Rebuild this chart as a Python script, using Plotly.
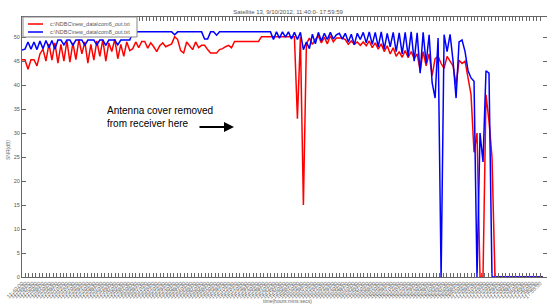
import pandas as pd
import plotly.graph_objects as go

# ---------------- data ----------------
start_time = "2012-09-10 11:40:00"
end_time = "2012-09-10 17:59:59"
sample_interval = "130s"

com6_snr = [
    45.3, 45.3, 43.3, 45.3, 45.3, 44.0, 46.5, 47.5, 45.0, 48.6,
    45.2, 48.8, 44.6, 48.5, 45.0, 49.3, 44.8, 48.8, 45.3, 49.5,
    46.5, 49.0, 44.6, 48.5, 45.2, 49.2, 46.0, 49.5, 45.0, 48.8,
    47.0, 49.6, 45.5, 48.5, 46.0, 49.0, 47.2,
    47.6, 49.0, 47.8, 49.1, 49.1, 47.7, 48.8, 48.0, 47.0, 48.2,
    48.8, 48.0, 48.3, 48.6, 50.1, 49.5, 47.2, 46.7, 49.0, 48.2,
    47.4, 49.0, 47.8, 48.3, 48.3, 47.4, 46.7, 46.7, 46.7, 47.4,
    47.6, 48.0, 48.3, 47.8, 49.1, 49.1,
    49.1, 49.1, 49.1, 49.1, 49.1, 49.1, 49.1,
    50.1, 50.1, 50.1, 50.1, 50.1, 50.1, 50.1, 50.1, 50.1, 50.1, 50.1, 50.1,
    33.0, 50.0, 15.0, 48.6, 49.8, 48.5, 49.5, 50.3, 48.8, 50.0,
    48.6, 50.3, 49.0, 49.8, 49.8, 49.8, 49.5, 48.5, 49.2, 48.5,
    49.0, 48.3, 49.0, 48.2, 49.2, 47.8, 48.8, 47.5, 48.6, 47.0,
    48.2, 46.5, 47.8, 46.0, 47.0, 45.8, 47.2, 45.7, 47.0, 45.5,
    46.5, 43.0, 47.0, 44.0, 46.5, 42.0, 45.5, 46.0, 44.5, 43.5,
    46.0, 45.0, 44.0, 40.0, 45.2, 44.5, 45.0, 41.5, 38.0, 26.0,
    30.0, 0.0, 0.0, 38.0, 32.5, 25.0,
    0.0, 0.0, 0.0, 0.0, 0.0, 0.0, 0.0, 0.0, 0.0, 0.0,
    0.0, 0.0, 0.0, 0.0, 0.0, 0.0, 0.0,
]

com8_snr = [
    47.3, 47.5, 49.0, 47.5, 49.0, 47.4, 49.2, 47.6, 49.3, 47.8,
    49.3, 47.5, 49.4, 49.4, 48.4, 49.4, 49.4, 48.3, 49.4, 49.4,
    49.4, 48.3, 49.4, 49.4, 49.4, 48.4, 49.4, 49.4, 48.3, 49.4,
    49.4, 49.4, 48.4, 49.4, 49.4, 49.4, 49.4,
    51.0, 51.1, 51.1, 51.1, 51.1, 51.1, 51.1, 51.1, 51.1, 51.1,
    51.1, 51.1, 51.1, 51.1, 50.5, 51.1, 51.1, 51.1, 51.1, 51.1,
    51.1, 51.1, 51.1, 51.1, 49.6, 49.6, 51.1, 51.1, 50.4, 51.1,
    51.1, 51.1, 51.1, 51.1, 51.1,
    51.1, 51.1, 51.1, 51.1, 51.1, 51.1, 51.1, 51.1, 51.1, 51.1, 51.1, 51.1,
    49.5, 51.1, 49.8, 51.1, 50.0, 51.1, 49.6, 51.0, 49.5, 51.0,
    47.4, 49.0, 47.6, 50.6, 48.6, 51.0, 49.2, 50.8, 49.5, 51.0,
    49.6, 50.5, 50.8, 49.6, 50.8, 49.0, 50.6, 48.4, 50.8, 49.5,
    51.0, 48.8, 51.1, 48.5, 51.0, 48.0, 51.1, 47.5, 50.8, 48.0,
    51.0, 47.0, 50.9, 46.5, 51.0, 46.0, 51.1, 45.0, 50.9, 42.5,
    51.0, 44.5, 50.5, 40.5, 37.3, 49.8, 0.0, 50.5, 47.0, 50.6,
    45.0, 37.3, 49.0, 49.4, 47.0, 43.0, 41.5, 40.8, 0.0, 30.0,
    24.0, 43.0, 42.5, 0.0,
    0.0, 0.0, 0.0, 0.0, 0.0, 0.0, 0.0, 0.0, 0.0, 0.0,
    0.0, 0.0, 0.0, 0.0, 0.0, 0.0, 0.0,
]

series_names = [r"c:\NDBC\new_data\com6_out.txt", r"c:\NDBC\new_data\com8_out.txt"]
series_colors = ["#ff0000", "#0000ff"]

y_ticks = [0, 5, 10, 15, 20, 25, 30, 35, 40, 45, 50]
tick_interval = "150s"
last_labelled_tick = "2012-09-10 17:55:00"

times = pd.date_range(start_time, periods=len(com6_snr), freq=sample_interval)
tick_times = pd.date_range(start_time, last_labelled_tick, freq=tick_interval)
tick_labels = [t.strftime("%H:%M:%S") for t in tick_times]

# ---------------- figure ----------------
fig = go.Figure()
for name, vals, col in zip(series_names, [com6_snr, com8_snr], series_colors):
    fig.add_trace(go.Scatter(x=times, y=vals, mode="lines", name=name,
                             line=dict(color=col, width=1.5), showlegend=False))

W, H = 547, 306
L, R, T, B = 22, 0, 17, 29
pw, ph = W - L - R, H - T - B

def px_x(px):
    return (px - L) / pw

def px_y(py):
    return (H - B - py) / ph

axis_col = "#666666"
fig.update_layout(
    width=W, height=H,
    margin=dict(l=L, r=R, t=T, b=B, autoexpand=False),
    paper_bgcolor="white", plot_bgcolor="white",
    font=dict(family="Liberation Sans, Arial, sans-serif", color="#555555", size=5),
    title=dict(text="Satellite 13, 9/10/2012, 11:40:0- 17:59:59",
               x=288 / W, y=1 - 12 / H, xanchor="center", yanchor="middle",
               font=dict(size=6, color="#555555")),
    showlegend=False,
    xaxis=dict(range=[pd.Timestamp(start_time), pd.Timestamp(end_time)],
               tickmode="array", tickvals=tick_times, ticktext=tick_labels,
               tickangle=-45, tickfont=dict(size=5.5, color="#666666"),
               ticks="inside", ticklen=4, tickcolor=axis_col,
               showline=True, linecolor=axis_col, linewidth=1, mirror="ticks",
               showgrid=False, zeroline=False, automargin=False),
    yaxis=dict(range=[0, 54.2], tickmode="array", tickvals=y_ticks,
               tickfont=dict(size=5.5, color="#555555"),
               ticks="inside", ticklen=4, tickcolor=axis_col,
               showline=True, linecolor=axis_col, linewidth=1, mirror="ticks",
               showgrid=False, zeroline=False, automargin=False),
)

# legend box (drawn like the MATLAB legend)
fig.add_shape(type="rect", xref="paper", yref="paper",
              x0=px_x(23), x1=px_x(137), y0=px_y(37), y1=px_y(17),
              line=dict(color="#888888", width=1), fillcolor="white", layer="above")
for k, (name, col) in enumerate(zip(series_names, series_colors)):
    yy = 24 + 8 * k
    fig.add_shape(type="line", xref="paper", yref="paper",
                  x0=px_x(28), x1=px_x(43), y0=px_y(yy), y1=px_y(yy),
                  line=dict(color=col, width=1.5), layer="above")
    fig.add_annotation(xref="paper", yref="paper", x=px_x(48), y=px_y(yy),
                       xanchor="left", yanchor="middle", showarrow=False,
                       text=name.replace("\\", "&#92;"),
                       font=dict(size=5.5, color="#555555"))

fig.add_annotation(xref="paper", yref="paper", x=px_x(105), y=px_y(117),
                   xanchor="left", yanchor="middle", align="left", showarrow=False,
                   text="Antenna cover removed<br>from receiver here",
                   font=dict(family="Liberation Sans, Arial, sans-serif", size=10, color="#000000"))
fig.add_annotation(xref="paper", yref="paper", x=px_x(234), y=px_y(127),
                   ax=-36, ay=0, axref="pixel", ayref="pixel",
                   text="", showarrow=True, arrowhead=2, arrowsize=1, arrowwidth=2,
                   arrowcolor="#000000")
fig.add_annotation(xref="paper", yref="paper", x=px_x(8), y=px_y(150),
                   text="SNR(dB)", textangle=-90, showarrow=False,
                   xanchor="center", yanchor="middle",
                   font=dict(size=5, color="#666666"))
fig.add_annotation(xref="paper", yref="paper", x=px_x(287), y=px_y(301),
                   text="time(hours:mins:secs)", showarrow=False,
                   xanchor="center", yanchor="middle",
                   font=dict(size=5, color="#666666"))

fig.write_html("out.html", config={"displayModeBar": False},
               post_script="document.body.style.margin='0';document.body.style.overflow='hidden';")
